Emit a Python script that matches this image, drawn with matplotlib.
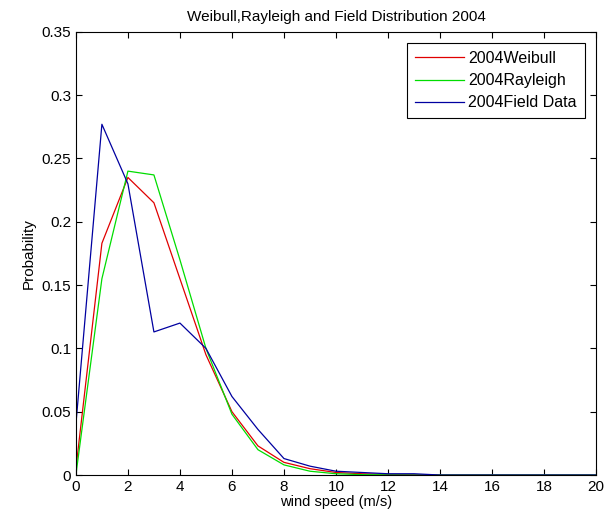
import matplotlib
matplotlib.use('Agg')
import matplotlib.pyplot as plt
import numpy as np

plt.rcParams['font.family'] = ['Liberation Sans', 'DejaVu Sans']

wind_speed = np.arange(0, 21)
weibull = [0.005, 0.183, 0.235, 0.215, 0.155, 0.095, 0.050, 0.023, 0.010, 0.005, 0.002,
           0.001, 0.0005, 0.0002, 0, 0, 0, 0, 0, 0, 0]
rayleigh = [0.0, 0.155, 0.240, 0.237, 0.170, 0.100, 0.048, 0.020, 0.008, 0.003, 0.001,
            0.0003, 0.0001, 0, 0, 0, 0, 0, 0, 0, 0]
field = [0.040, 0.277, 0.230, 0.113, 0.120, 0.100, 0.062, 0.036, 0.013, 0.007, 0.003,
         0.002, 0.001, 0.001, 0, 0, 0, 0, 0, 0, 0]

fig = plt.figure(figsize=(6.12, 5.22), dpi=100)
ax = fig.add_axes([0.124, 0.090, 0.850, 0.849])

ax.plot(wind_speed, weibull, color='#e00000', lw=0.9, label='2004Weibull')
ax.plot(wind_speed, rayleigh, color='#00dd00', lw=0.9, label='2004Rayleigh')
ax.plot(wind_speed, field, color='#0000a0', lw=0.9, label='2004Field Data')

ax.set_xlim(0, 20)
ax.set_ylim(0, 0.35)
ax.set_xticks(np.arange(0, 21, 2))
ax.set_yticks(np.arange(0, 0.36, 0.05))
ax.set_yticklabels(['0', '0.05', '0.1', '0.15', '0.2', '0.25', '0.3', '0.35'])
ax.tick_params(direction='in', top=True, right=True, labelsize=11, length=4)
for s in ax.spines.values():
    s.set_linewidth(0.8)

ax.set_xlabel('wind speed (m/s)', fontsize=10.5, labelpad=1)
ax.set_ylabel('Probability', fontsize=11)
ax.set_title('Weibull,Rayleigh and Field Distribution 2004', fontsize=11, pad=8)

leg = ax.legend(loc='upper right', fontsize=11.5, fancybox=False, framealpha=1,
                edgecolor='k', handlelength=3.1, handletextpad=0.25,
                borderaxespad=0.7, labelspacing=0.45, borderpad=0.5)
leg.get_frame().set_linewidth(0.8)

plt.savefig('out.png', dpi=100)
